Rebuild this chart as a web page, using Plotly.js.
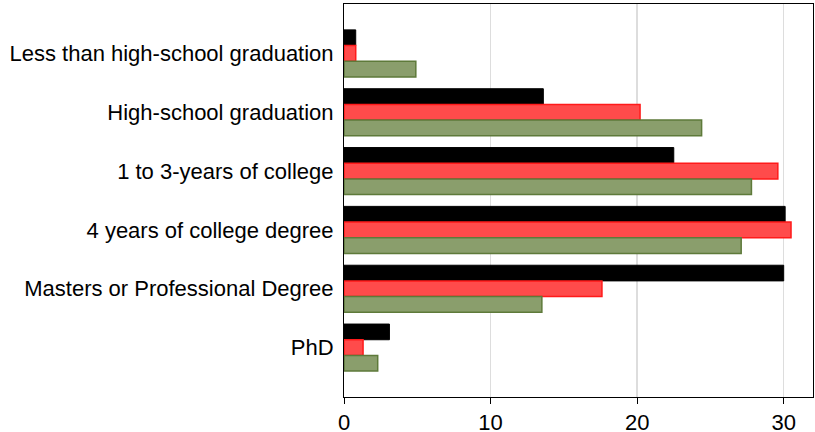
<!DOCTYPE html>
<html>
<head>
<meta charset="utf-8">
<script src="https://cdn.plot.ly/plotly-3.0.1.min.js"></script>
<style>html,body{margin:0;padding:0;background:#fff;}#chart{width:815px;height:432px;}</style>
</head>
<body>
<div id="chart"></div>
<script>
const categories = [
  "Less than high-school graduation",
  "High-school graduation",
  "1 to 3-years of college",
  "4 years of college degree",
  "Masters or Professional Degree",
  "PhD"
];
const seriesBlack = [0.8, 13.6, 22.5, 30.1, 30.0, 3.1];
const seriesRed   = [0.8, 20.2, 29.6, 30.5, 17.6, 1.3];
const seriesGreen = [4.9, 24.4, 27.8, 27.1, 13.5, 2.3];
const xTicks = [0, 10, 20, 30];

const traces = [
  {type:'bar', orientation:'h', y:categories, x:seriesBlack, name:'A',
   marker:{color:'#000000', line:{color:'#000000', width:1}}},
  {type:'bar', orientation:'h', y:categories, x:seriesRed, name:'B',
   marker:{color:'#ff4b4b', line:{color:'#ff1a1a', width:1.5}}},
  {type:'bar', orientation:'h', y:categories, x:seriesGreen, name:'C',
   marker:{color:'#8a9e6c', line:{color:'#5e7a3a', width:1.5}}}
];

const layout = {
  width:815, height:432,
  margin:{l:344, r:2, t:4, b:35, pad:0},
  paper_bgcolor:'#fff', plot_bgcolor:'#fff',
  font:{family:'"Liberation Sans", Arial, sans-serif', size:22, color:'#000'},
  showlegend:false,
  barmode:'group', bargap:0.2, bargroupgap:0,
  xaxis:{
    range:[0, 32], tickvals:xTicks, ticktext:xTicks.map(String),
    showgrid:true, gridcolor:'#dddddd', gridwidth:1.5,
    zeroline:false,
    showline:true, linecolor:'#000', linewidth:1, mirror:true,
    ticks:'outside', ticklen:6, tickcolor:'#000', tickwidth:1,
    tickfont:{size:22}
  },
  yaxis:{
    type:'category', categoryorder:'array', categoryarray:categories,
    range:[5.84, -0.84],
    showgrid:false, zeroline:false,
    showline:true, linecolor:'#000', linewidth:1, mirror:true,
    ticks:'outside', ticklen:5, tickcolor:'rgba(0,0,0,0)',
    tickfont:{size:22}
  }
};

Plotly.newPlot('chart', traces, layout, {displayModeBar:false, staticPlot:true});
</script>
</body>
</html>
